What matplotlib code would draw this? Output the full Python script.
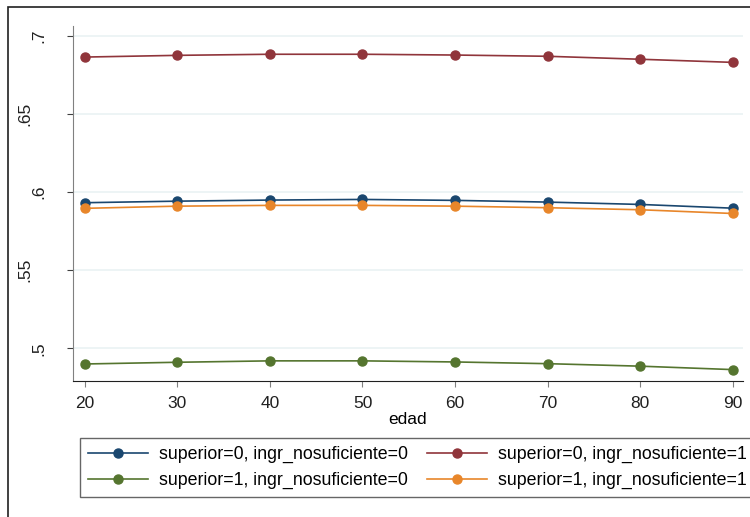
import matplotlib
matplotlib.use("Agg")
import matplotlib.pyplot as plt
import matplotlib.transforms as mtransforms
from matplotlib.patches import Rectangle

plt.rcParams['font.family'] = ['Liberation Sans', 'DejaVu Sans']

# data
edad = [20, 30, 40, 50, 60, 70, 80, 90]
sup0_ing0 = [0.5932, 0.5942, 0.5949, 0.5953, 0.5947, 0.5936, 0.5921, 0.5897]
sup0_ing1 = [0.6865, 0.6876, 0.6883, 0.6883, 0.6878, 0.6870, 0.6851, 0.6831]
sup1_ing0 = [0.4899, 0.4910, 0.4919, 0.4919, 0.4912, 0.4901, 0.4885, 0.4863]
sup1_ing1 = [0.5896, 0.5910, 0.5915, 0.5915, 0.5910, 0.5900, 0.5887, 0.5863]
yticks = [0.5, 0.55, 0.6, 0.65, 0.7]
ytick_labels = [".5", ".55", ".6", ".65", ".7"]

series = [
    ("superior=0, ingr_nosuficiente=0", sup0_ing0, "#1a476f"),
    ("superior=0, ingr_nosuficiente=1", sup0_ing1, "#90353b"),
    ("superior=1, ingr_nosuficiente=0", sup1_ing0, "#55752f"),
    ("superior=1, ingr_nosuficiente=1", sup1_ing1, "#e8862a"),
]

fig = plt.figure(figsize=(7.5, 5.17), dpi=100)
ax = fig.add_axes([73 / 750, 1 - 381 / 517, (743 - 73) / 750, (381 - 26) / 517])

lines = []
for label, vals, col in series:
    ln, = ax.plot(edad, vals, color=col, marker="o", markersize=6.5, linewidth=1.2, label=label)
    lines.append(ln)

ax.set_xlim(18.73, 91.1)
ax.set_ylim(0.479, 0.7064)
ax.set_xticks(edad)
ax.set_yticks(yticks)
ax.grid(axis="y", color="#eaf2f3", linewidth=1.2)
ax.set_axisbelow(True)
for s in ["top", "right"]:
    ax.spines[s].set_visible(False)
ax.spines["left"].set_color("#808080")
ax.spines["bottom"].set_color("#202020")
ax.tick_params(axis="both", labelsize=12.5, labelcolor="#202020", length=4.3)
ax.tick_params(axis="x", color="#808080", pad=6.5)
ax.tick_params(axis="y", color="#404040", pad=15)
ax.set_yticklabels(ytick_labels, rotation=90, va="center", ha="right")
# two-digit labels sit further left, as in the original
for lbl, txt in zip(ax.get_yticklabels(), ytick_labels):
    if len(txt) > 2:
        lbl.set_transform(lbl.get_transform() + mtransforms.ScaledTranslation(-14 / 100, 0, fig.dpi_scale_trans))
ax.set_xlabel("edad", fontsize=12.5, labelpad=0.5)

order = [0, 2, 1, 3]
fig.legend([lines[i] for i in order], [series[i][0] for i in order],
           loc="upper left", bbox_to_anchor=(80 / 750, 1 - 438 / 517), ncol=2,
           fontsize=12.8, frameon=True, fancybox=False, edgecolor="#404040",
           borderaxespad=0, handlelength=3.4, columnspacing=1.05,
           handletextpad=0.6, labelspacing=0.5, borderpad=0.45)
fig.legends[0].get_frame().set_linewidth(1.0)

# outer frame of the graph region
fig.patches.append(Rectangle((8 / 750, -0.2), 1.2, 1 - 7 / 517 + 0.2, transform=fig.transFigure,
                             fill=False, edgecolor="#202020", linewidth=1.2))

plt.savefig("out.png", dpi=100)
